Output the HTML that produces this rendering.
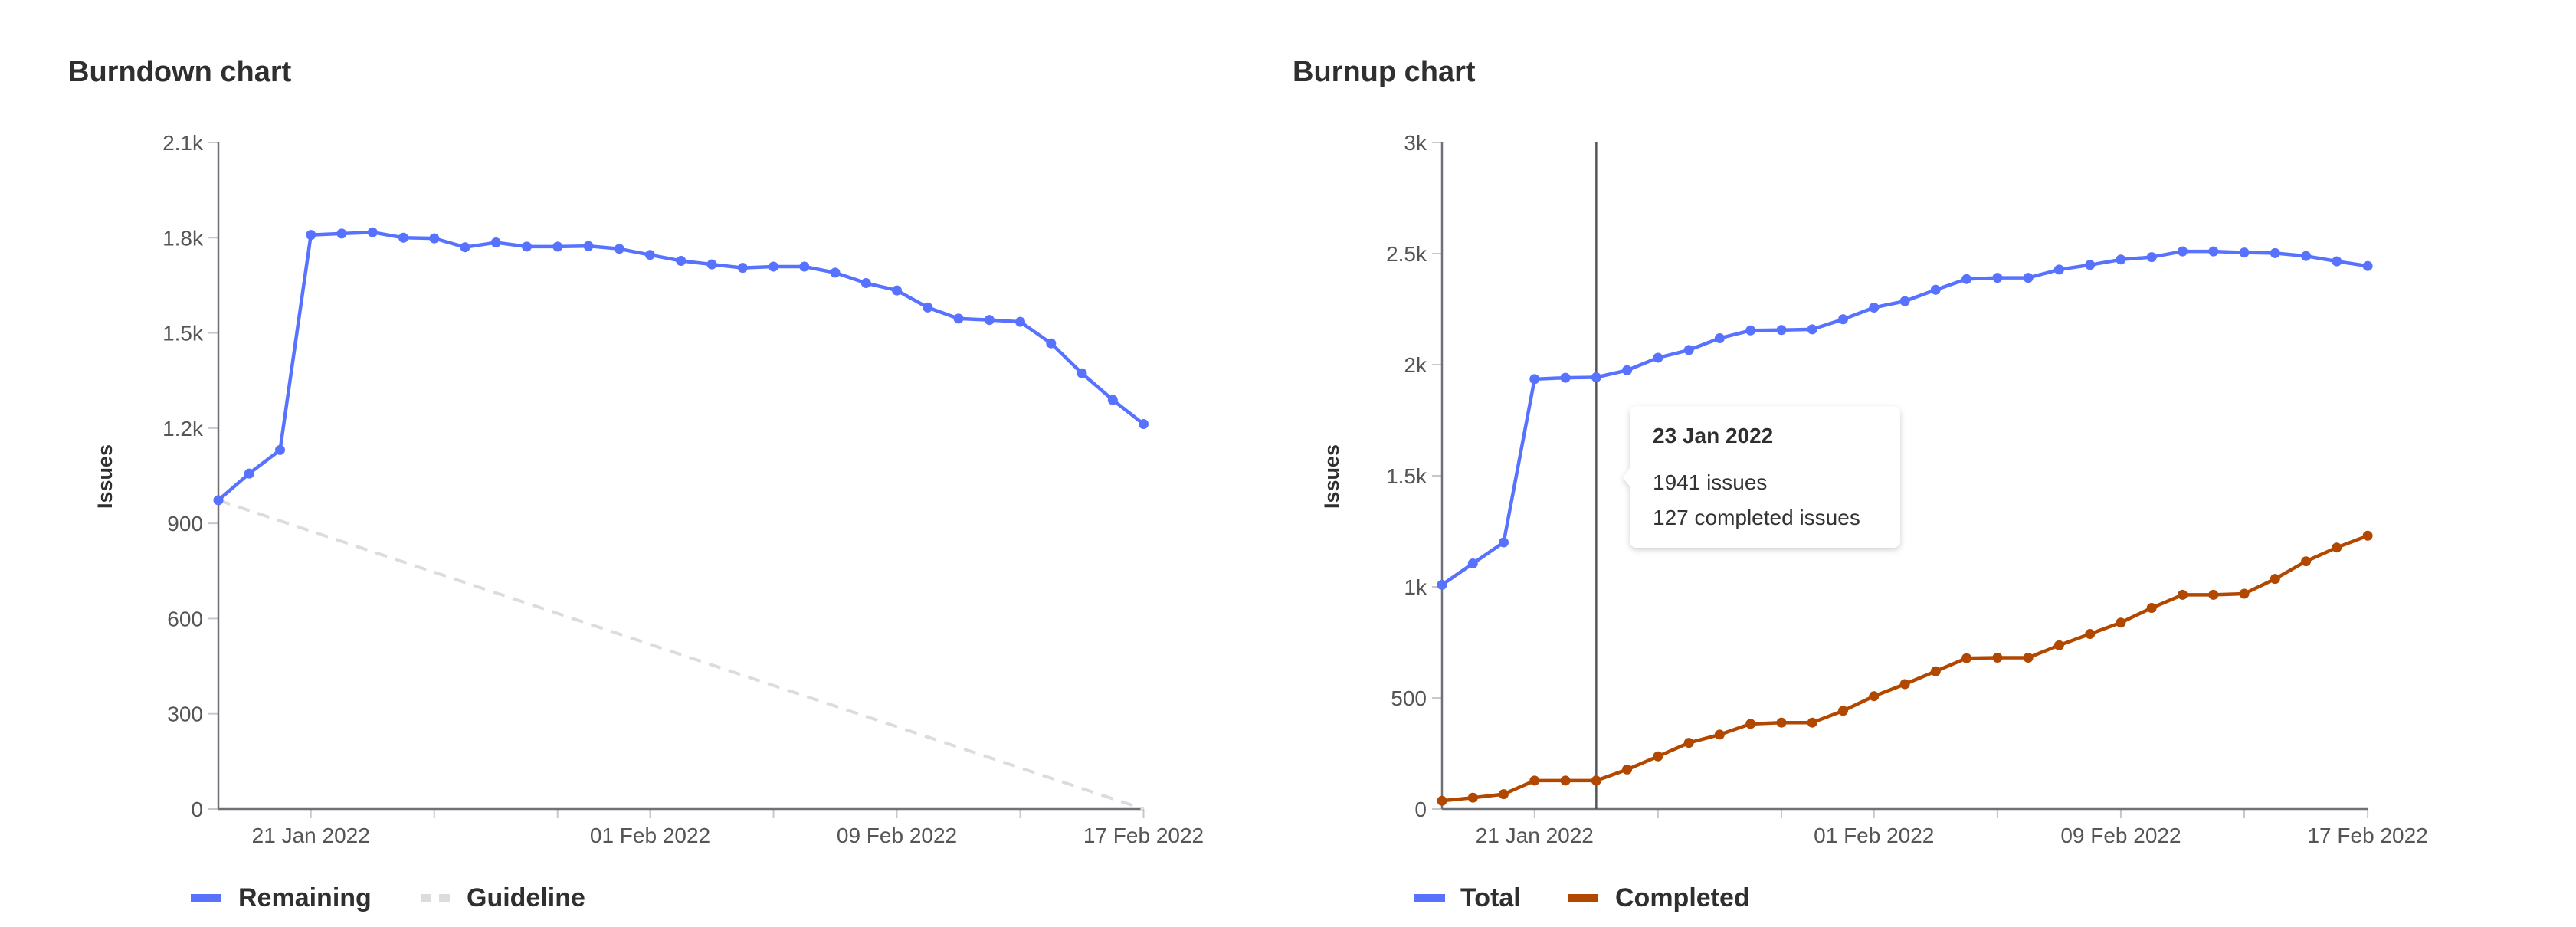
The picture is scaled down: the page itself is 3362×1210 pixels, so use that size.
<!DOCTYPE html>
<html><head><meta charset="utf-8"><style>
html,body{margin:0;padding:0;background:#fff;}
svg{display:block;font-family:"Liberation Sans",Arial,sans-serif;}
</style></head><body>
<svg id="s" width="3362" height="1210" xmlns="http://www.w3.org/2000/svg">
<rect width="3362" height="1210" fill="#fff"/>
<text x="89" y="106" font-size="38" font-weight="bold" fill="#2f2f2f">Burndown chart</text>
<text x="1687" y="106" font-size="38" font-weight="bold" fill="#2f2f2f">Burnup chart</text>
<g id="g"></g>
</svg>
<script>
var g=document.getElementById('g'),h='';
var B=[973,1057,1131,1809,1813,1817,1800,1798,1770,1785,1772,1772,1774,1765,1746,1727,1716,1705,1709,1709,1690,1657,1634,1580,1545,1541,1535,1467,1373,1289,1213];
var T=[1009,1105,1200,1935,1941,1943,1975,2031,2066,2119,2154,2156,2159,2204,2257,2286,2337,2385,2391,2391,2428,2449,2473,2484,2510,2510,2505,2502,2489,2465,2444];
var C=[37,51,67,128,128,128,178,237,298,335,383,389,389,442,508,562,620,679,681,681,737,788,839,905,964,964,969,1036,1115,1177,1230];
var Y0=1056,YT=186,H=Y0-YT;
function chart(ax,step,max,ticks,labels,issuesX){
  var endX=ax+step*30;
  ticks.forEach(function(v,i){var y=Y0-v/max*H;
    h+='<line x1="'+(ax-13)+'" y1="'+y+'" x2="'+ax+'" y2="'+y+'" stroke="#c8c8c8" stroke-width="2"/>';
    h+='<text x="'+(ax-20)+'" y="'+(y+10)+'" font-size="28" fill="#555" text-anchor="end">'+labels[i]+'</text>';});
  [3,7,11,14,18,22,26,30].forEach(function(i){var x=ax+step*i;
    h+='<line x1="'+x+'" y1="'+Y0+'" x2="'+x+'" y2="'+(Y0+12)+'" stroke="#c8c8c8" stroke-width="2"/>';});
  [[3,'21 Jan 2022'],[14,'01 Feb 2022'],[22,'09 Feb 2022'],[30,'17 Feb 2022']].forEach(function(p){
    h+='<text x="'+(ax+step*p[0])+'" y="1100" font-size="28" fill="#555" text-anchor="middle">'+p[1]+'</text>';});
  h+='<line x1="'+ax+'" y1="'+YT+'" x2="'+ax+'" y2="'+Y0+'" stroke="#707078" stroke-width="2.5"/>';
  h+='<line x1="'+ax+'" y1="'+Y0+'" x2="'+endX+'" y2="'+Y0+'" stroke="#707078" stroke-width="2.5"/>';
  h+='<text transform="translate('+(issuesX)+',622) rotate(-90)" font-size="27" font-weight="bold" fill="#2f2f2f" text-anchor="middle">Issues</text>';
}
function series(ax,step,max,d,col){
  var pts=d.map(function(v,i){return (ax+step*i).toFixed(1)+','+(Y0-v/max*H).toFixed(1);});
  h+='<polyline points="'+pts.join(' ')+'" fill="none" stroke="'+col+'" stroke-width="4.5" stroke-linejoin="round"/>';
  pts.forEach(function(p){var a=p.split(',');h+='<circle cx="'+a[0]+'" cy="'+a[1]+'" r="6.5" fill="'+col+'"/>';});
}
var BL='#5772ff',OR='#b24800';
var SL=40.25,SR=40.27;
chart(285,SL,2100,[0,300,600,900,1200,1500,1800,2100],['0','300','600','900','1.2k','1.5k','1.8k','2.1k'],146);
h+='<line x1="285" y1="'+(Y0-973/2100*H)+'" x2="'+(285+SL*30)+'" y2="'+Y0+'" stroke="#dcdcdc" stroke-width="4" stroke-dasharray="16,11"/>';
series(285,SL,2100,B,BL);
chart(1882,SR,3000,[0,500,1000,1500,2000,2500,3000],['0','500','1k','1.5k','2k','2.5k','3k'],1747);
h+='<line x1="'+(1882+SR*5)+'" y1="'+YT+'" x2="'+(1882+SR*5)+'" y2="'+Y0+'" stroke="#555" stroke-width="2.5"/>';
series(1882,SR,3000,T,BL);
series(1882,SR,3000,C,OR);
h+='<defs><filter id="sh" x="-10%" y="-10%" width="120%" height="130%"><feDropShadow dx="0" dy="3" stdDeviation="4" flood-color="#000" flood-opacity="0.18"/></filter></defs>';
h+='<g filter="url(#sh)"><rect x="2127" y="530" width="353" height="185" rx="9" fill="#fff"/><path d="M2128,610 L2118,623 L2128,636 Z" fill="#fff"/></g>';
h+='<text x="2157" y="578" font-size="28" font-weight="bold" fill="#2f2f2f">23 Jan 2022</text>';
h+='<text x="2157" y="639" font-size="28" fill="#333">1941 issues</text>';
h+='<text x="2157" y="685" font-size="28" fill="#333">127 completed issues</text>';
h+='<rect x="249" y="1167" width="40" height="10" fill="'+BL+'"/><text x="311" y="1183" font-size="34" font-weight="bold" fill="#2f2f2f">Remaining</text>';
h+='<rect x="549" y="1167" width="14" height="10" fill="#dcdcdc"/><rect x="573" y="1167" width="14" height="10" fill="#dcdcdc"/><text x="609" y="1183" font-size="34" font-weight="bold" fill="#2f2f2f">Guideline</text>';
h+='<rect x="1846" y="1167" width="40" height="10" fill="'+BL+'"/><text x="1906" y="1183" font-size="34" font-weight="bold" fill="#2f2f2f">Total</text>';
h+='<rect x="2046" y="1167" width="40" height="10" fill="'+OR+'"/><text x="2108" y="1183" font-size="34" font-weight="bold" fill="#2f2f2f">Completed</text>';
g.innerHTML=h;
</script>
</body></html>
